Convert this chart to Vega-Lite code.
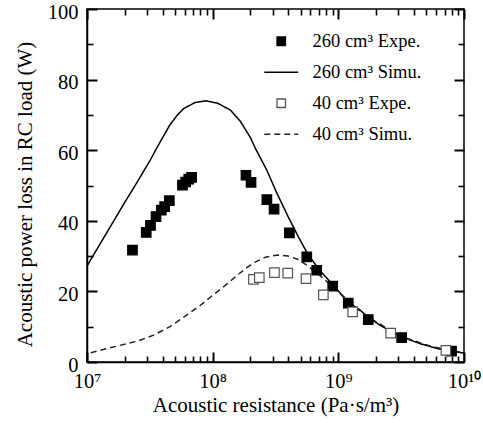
{
  "$schema": "https://vega.github.io/schema/vega-lite/v6.json",
  "width": 377,
  "height": 353,
  "autosize": {"type": "none"},
  "padding": {"left": 87, "top": 9, "right": 19, "bottom": 61},
  "config": {
    "font": "Liberation Serif",
    "view": {"stroke": "black", "strokeWidth": 1.5},
    "axis": {"domainColor": "black", "domainWidth": 1.5, "labelColor": "black", "titleColor": "black", "labelFont": "Liberation Serif", "titleFont": "Liberation Serif", "labelFontSize": 20.5, "titleFontSize": 21, "titleFontWeight": "normal", "grid": false, "labelFlush": false, "labelOverlap": false},
    "legend": {"orient": "none", "legendX": 185, "legendY": 23, "labelFont": "Liberation Serif", "labelFontSize": 18.5, "labelColor": "black", "symbolSize": 72, "labelOffset": 22, "rowPadding": 12, "symbolStrokeWidth": 1.3}
  },
  "datasets": {
    "curves": [
      {"R": 1.0e7, "P": 27.2, "series": "260 cm³ Simu."},
      {"R": 1.259e7, "P": 33.2, "series": "260 cm³ Simu."},
      {"R": 1.585e7, "P": 39.2, "series": "260 cm³ Simu."},
      {"R": 1.995e7, "P": 45.2, "series": "260 cm³ Simu."},
      {"R": 2.512e7, "P": 51.0, "series": "260 cm³ Simu."},
      {"R": 3.162e7, "P": 57.0, "series": "260 cm³ Simu."},
      {"R": 3.802e7, "P": 62.2, "series": "260 cm³ Simu."},
      {"R": 4.571e7, "P": 67.2, "series": "260 cm³ Simu."},
      {"R": 5.248e7, "P": 70.0, "series": "260 cm³ Simu."},
      {"R": 5.888e7, "P": 71.8, "series": "260 cm³ Simu."},
      {"R": 7.244e7, "P": 73.5, "series": "260 cm³ Simu."},
      {"R": 8.83e7, "P": 74.0, "series": "260 cm³ Simu."},
      {"R": 1.096e8, "P": 73.3, "series": "260 cm³ Simu."},
      {"R": 1.38e8, "P": 71.4, "series": "260 cm³ Simu."},
      {"R": 1.66e8, "P": 68.2, "series": "260 cm³ Simu."},
      {"R": 1.995e8, "P": 63.6, "series": "260 cm³ Simu."},
      {"R": 2.188e8, "P": 60.5, "series": "260 cm³ Simu."},
      {"R": 2.692e8, "P": 54.4, "series": "260 cm³ Simu."},
      {"R": 3.236e8, "P": 47.9, "series": "260 cm³ Simu."},
      {"R": 3.981e8, "P": 41.2, "series": "260 cm³ Simu."},
      {"R": 4.786e8, "P": 35.6, "series": "260 cm³ Simu."},
      {"R": 5.623e8, "P": 31.0, "series": "260 cm³ Simu."},
      {"R": 7.079e8, "P": 26.0, "series": "260 cm³ Simu."},
      {"R": 9.12e8, "P": 21.8, "series": "260 cm³ Simu."},
      {"R": 1.175e9, "P": 17.2, "series": "260 cm³ Simu."},
      {"R": 1.479e9, "P": 14.8, "series": "260 cm³ Simu."},
      {"R": 1.738e9, "P": 12.6, "series": "260 cm³ Simu."},
      {"R": 2.239e9, "P": 10.0, "series": "260 cm³ Simu."},
      {"R": 3.162e9, "P": 7.2, "series": "260 cm³ Simu."},
      {"R": 4.467e9, "P": 5.2, "series": "260 cm³ Simu."},
      {"R": 6.31e9, "P": 3.7, "series": "260 cm³ Simu."},
      {"R": 1.0e10, "P": 2.5, "series": "260 cm³ Simu."},
      {"R": 1.072e7, "P": 2.6, "series": "40 cm³ Simu."},
      {"R": 1.82e7, "P": 4.7, "series": "40 cm³ Simu."},
      {"R": 2.512e7, "P": 5.9, "series": "40 cm³ Simu."},
      {"R": 3.388e7, "P": 7.6, "series": "40 cm³ Simu."},
      {"R": 4.571e7, "P": 10.0, "series": "40 cm³ Simu."},
      {"R": 6.166e7, "P": 13.2, "series": "40 cm³ Simu."},
      {"R": 7.943e7, "P": 16.0, "series": "40 cm³ Simu."},
      {"R": 1.0e8, "P": 18.9, "series": "40 cm³ Simu."},
      {"R": 1.259e8, "P": 21.7, "series": "40 cm³ Simu."},
      {"R": 1.622e8, "P": 25.0, "series": "40 cm³ Simu."},
      {"R": 2.089e8, "P": 28.0, "series": "40 cm³ Simu."},
      {"R": 2.63e8, "P": 29.7, "series": "40 cm³ Simu."},
      {"R": 3.311e8, "P": 30.3, "series": "40 cm³ Simu."},
      {"R": 3.981e8, "P": 30.0, "series": "40 cm³ Simu."},
      {"R": 4.677e8, "P": 29.2, "series": "40 cm³ Simu."},
      {"R": 5.623e8, "P": 27.4, "series": "40 cm³ Simu."},
      {"R": 7.079e8, "P": 24.6, "series": "40 cm³ Simu."},
      {"R": 9.12e8, "P": 21.2, "series": "40 cm³ Simu."},
      {"R": 1.175e9, "P": 17.6, "series": "40 cm³ Simu."},
      {"R": 1.479e9, "P": 14.5, "series": "40 cm³ Simu."},
      {"R": 1.995e9, "P": 11.4, "series": "40 cm³ Simu."},
      {"R": 3.162e9, "P": 7.2, "series": "40 cm³ Simu."},
      {"R": 5.623e9, "P": 4.3, "series": "40 cm³ Simu."},
      {"R": 1.0e10, "P": 2.6, "series": "40 cm³ Simu."}
    ],
    "points": [
      {"R": 2.30e7, "P": 31.7, "series": "260 cm³ Expe."},
      {"R": 2.96e7, "P": 36.7, "series": "260 cm³ Expe."},
      {"R": 3.20e7, "P": 38.7, "series": "260 cm³ Expe."},
      {"R": 3.54e7, "P": 41.2, "series": "260 cm³ Expe."},
      {"R": 3.90e7, "P": 43.0, "series": "260 cm³ Expe."},
      {"R": 4.15e7, "P": 44.0, "series": "260 cm³ Expe."},
      {"R": 4.52e7, "P": 45.7, "series": "260 cm³ Expe."},
      {"R": 5.75e7, "P": 50.1, "series": "260 cm³ Expe."},
      {"R": 6.10e7, "P": 51.0, "series": "260 cm³ Expe."},
      {"R": 6.45e7, "P": 51.8, "series": "260 cm³ Expe."},
      {"R": 6.80e7, "P": 52.3, "series": "260 cm³ Expe."},
      {"R": 1.84e8, "P": 52.9, "series": "260 cm³ Expe."},
      {"R": 2.02e8, "P": 50.9, "series": "260 cm³ Expe."},
      {"R": 2.70e8, "P": 46.0, "series": "260 cm³ Expe."},
      {"R": 3.08e8, "P": 43.3, "series": "260 cm³ Expe."},
      {"R": 4.08e8, "P": 36.6, "series": "260 cm³ Expe."},
      {"R": 5.61e8, "P": 29.8, "series": "260 cm³ Expe."},
      {"R": 6.73e8, "P": 26.0, "series": "260 cm³ Expe."},
      {"R": 9.02e8, "P": 21.5, "series": "260 cm³ Expe."},
      {"R": 1.20e9, "P": 16.7, "series": "260 cm³ Expe."},
      {"R": 1.73e9, "P": 12.0, "series": "260 cm³ Expe."},
      {"R": 3.19e9, "P": 6.9, "series": "260 cm³ Expe."},
      {"R": 7.96e9, "P": 3.1, "series": "260 cm³ Expe."},
      {"R": 2.11e8, "P": 23.4, "series": "40 cm³ Expe."},
      {"R": 2.35e8, "P": 23.9, "series": "40 cm³ Expe."},
      {"R": 3.10e8, "P": 25.3, "series": "40 cm³ Expe."},
      {"R": 3.96e8, "P": 25.2, "series": "40 cm³ Expe."},
      {"R": 5.53e8, "P": 23.6, "series": "40 cm³ Expe."},
      {"R": 7.60e8, "P": 19.0, "series": "40 cm³ Expe."},
      {"R": 1.30e9, "P": 14.2, "series": "40 cm³ Expe."},
      {"R": 2.61e9, "P": 8.2, "series": "40 cm³ Expe."},
      {"R": 7.18e9, "P": 3.3, "series": "40 cm³ Expe."}
    ]
  },
  "resolve": {"axis": {"x": "independent", "y": "independent"}},
  "layer": [
    {
      "data": {"name": "curves"},
      "mark": {"type": "line", "strokeWidth": 1.5, "clip": true},
      "encoding": {
        "x": {"field": "R", "type": "quantitative",
          "scale": {"type": "log", "domain": [10000000, 10000000000], "nice": false},
          "axis": {"orient": "bottom",
            "values": [10000000, 100000000, 1000000000, 10000000000],
            "labelExpr": "datum.value == 10000000 ? '10⁷' : datum.value == 100000000 ? '10⁸' : datum.value == 1000000000 ? '10⁹' : '10¹⁰'",
            "tickSize": -10, "tickColor": "black", "tickWidth": 2,
            "labelPadding": 19,
            "title": "Acoustic resistance (Pa·s/m³)",
            "titlePadding": 3}},
        "y": {"field": "P", "type": "quantitative",
          "scale": {"domain": [0, 100], "nice": false},
          "axis": {"orient": "left",
            "values": [0, 20, 40, 60, 80, 100],
            "tickSize": -10, "tickColor": "black", "tickWidth": 2,
            "labelPadding": 19,
            "labelOffset": 3,
            "title": "Acoustic power loss in RC load (W)",
            "titlePadding": 12,
            "titleY": 185}},
        "stroke": {"field": "series", "type": "nominal",
          "scale": {"domain": ["260 cm³ Expe.", "260 cm³ Simu.", "40 cm³ Expe.", "40 cm³ Simu."], "range": ["black", "black", "#555555", "#222222"]},
          "legend": {"title": null}},
        "strokeDash": {"field": "series", "type": "nominal",
          "scale": {"domain": ["260 cm³ Expe.", "260 cm³ Simu.", "40 cm³ Expe.", "40 cm³ Simu."], "range": [[1, 0], [1, 0], [1, 0], [6, 4]]},
          "legend": {"title": null}}
      }
    },
    {
      "data": {"name": "points"},
      "mark": {"type": "point", "filled": true, "size": 90, "strokeWidth": 1.2, "opacity": 1},
      "encoding": {
        "x": {"field": "R", "type": "quantitative",
          "axis": {"orient": "top", "offset": -10, "domain": false,
            "values": [10000000, 100000000, 1000000000, 10000000000],
            "labels": false, "tickSize": 10, "tickColor": "black", "tickWidth": 2, "title": null}},
        "y": {"field": "P", "type": "quantitative",
          "axis": {"orient": "right", "offset": -10, "domain": false,
            "values": [0, 20, 40, 60, 80, 100],
            "labels": false, "tickSize": 10, "tickColor": "black", "tickWidth": 2, "title": null}},
        "shape": {"field": "series", "type": "nominal",
          "scale": {"domain": ["260 cm³ Expe.", "260 cm³ Simu.", "40 cm³ Expe.", "40 cm³ Simu."], "range": ["square", "M-4,0H4", "square", "M-4,0H4"]},
          "legend": {"title": null}},
        "fill": {"field": "series", "type": "nominal",
          "scale": {"domain": ["260 cm³ Expe.", "260 cm³ Simu.", "40 cm³ Expe.", "40 cm³ Simu."], "range": ["black", "transparent", "white", "transparent"]},
          "legend": {"title": null}},
        "stroke": {"field": "series", "type": "nominal",
          "legend": {"title": null}}
      }
    },
    {
      "data": {"name": "points"},
      "mark": {"type": "point", "opacity": 0},
      "encoding": {
        "x": {"field": "R", "type": "quantitative",
          "axis": {"orient": "bottom", "offset": -6, "domain": false,
            "values": [20000000, 30000000, 40000000, 50000000, 60000000, 70000000, 80000000, 90000000, 200000000, 300000000, 400000000, 500000000, 600000000, 700000000, 800000000, 900000000, 2000000000, 3000000000, 4000000000, 5000000000, 6000000000, 7000000000, 8000000000, 9000000000],
            "labels": false, "tickSize": 6, "tickColor": "black", "tickWidth": 1.6, "title": null}},
        "y": {"field": "P", "type": "quantitative",
          "axis": {"orient": "left", "offset": -6, "domain": false,
            "values": [10, 30, 50, 70, 90],
            "labels": false, "tickSize": 6, "tickColor": "black", "tickWidth": 1.6, "title": null}}
      }
    },
    {
      "data": {"name": "points"},
      "mark": {"type": "point", "opacity": 0},
      "encoding": {
        "x": {"field": "R", "type": "quantitative",
          "axis": {"orient": "top", "offset": -6, "domain": false,
            "values": [20000000, 30000000, 40000000, 50000000, 60000000, 70000000, 80000000, 90000000, 200000000, 300000000, 400000000, 500000000, 600000000, 700000000, 800000000, 900000000, 2000000000, 3000000000, 4000000000, 5000000000, 6000000000, 7000000000, 8000000000, 9000000000],
            "labels": false, "tickSize": 6, "tickColor": "black", "tickWidth": 1.6, "title": null}},
        "y": {"field": "P", "type": "quantitative",
          "axis": {"orient": "right", "offset": -6, "domain": false,
            "values": [10, 30, 50, 70, 90],
            "labels": false, "tickSize": 6, "tickColor": "black", "tickWidth": 1.6, "title": null}}
      }
    }
  ]
}
